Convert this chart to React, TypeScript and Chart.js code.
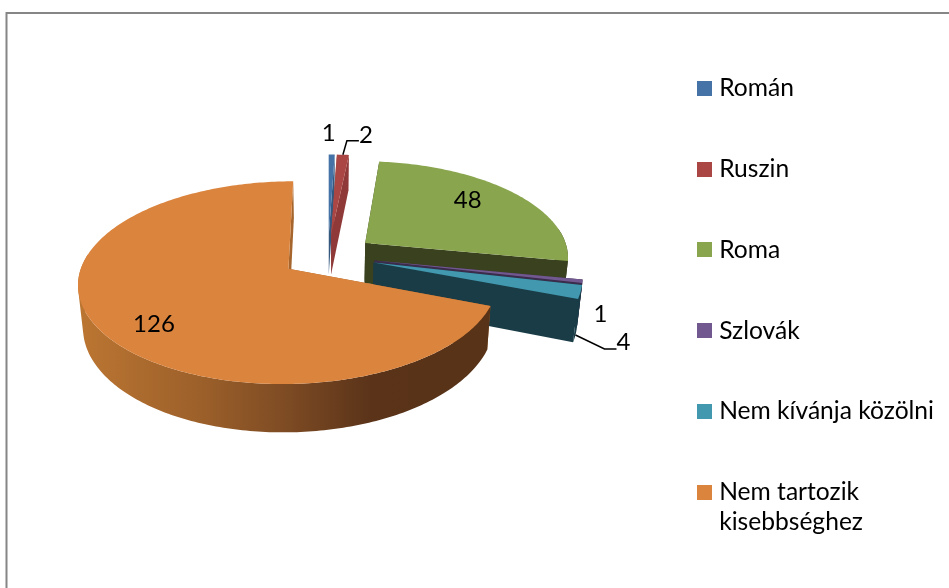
import React, { useEffect, useRef } from "react";
import { Chart, registerables } from "chart.js";

Chart.register(...registerables);

const categories: (string | string[])[] = ["Román", "Ruszin", "Roma", "Szlovák", "Nem kívánja közölni", ["Nem tartozik", "kisebbséghez"]];
const values = [1, 2, 48, 1, 4, 126];
const topColors = ["#4572A7", "#AA4643", "#89A54E", "#71588F", "#4198AF", "#DB843D"];
const sideColors = ["#35587F", "#8F3A38", "#3A411F", "#3A2C4A", "#1A3C47", "#A5652D"];

// view of the disc: centre, radii, perspective, thickness
const VIEW = { cx: 328, cy: 256, rx: 204, ry: 96, p: 0.134, q: 0.02, depth: 41 };
const SLICE_OFFSET = 61;
const FONT = "Lato, 'Open Sans', sans-serif";
const LEGEND_SIZE = 24.6;
const LEGEND_SHIFT_Y = 13.5;

// value label placement: fraction of radius, then nudge in px from the projected point
const labelPlace = [
  { r: 1, dx: -3, dy: -21 },
  { r: 1, dx: 23, dy: -19 },
  { r: 0.6, dx: 12, dy: -11 },
  { r: 1, dx: 18, dy: 33 },
  { r: 1, dx: 43, dy: 50 },
  { r: 0.6, dx: -25, dy: 20 },
];

function project(u: number, v: number, h: number) {
  const s = 1 / (1 - VIEW.p * v);
  return {
    x: VIEW.cx + VIEW.rx * u * s * (1 - VIEW.q * h),
    y: VIEW.cy + (VIEW.ry * v + VIEW.depth * h) * s,
  };
}

function polar(el: any, a: number, r: number, h: number) {
  const d = el.options.offset / el.outerRadius;
  const mid = (el.startAngle + el.endAngle) / 2;
  return project(Math.cos(a) * r + d * Math.cos(mid), Math.sin(a) * r + d * Math.sin(mid), h);
}

function fillPoly(ctx: CanvasRenderingContext2D, pts: { x: number; y: number }[], fill: any) {
  ctx.beginPath();
  pts.forEach((p, i) => (i ? ctx.lineTo(p.x, p.y) : ctx.moveTo(p.x, p.y)));
  ctx.closePath();
  ctx.fillStyle = fill;
  ctx.fill();
}

function rimAngles(el: any) {
  const n = Math.max(4, Math.ceil((el.endAngle - el.startAngle) * 60));
  const out: number[] = [];
  for (let i = 0; i <= n; i++) out.push(el.startAngle + ((el.endAngle - el.startAngle) * i) / n);
  return out;
}

// outer wall as one path of same-handed quads, so the silhouette follows the tangents
function fillWall(ctx: CanvasRenderingContext2D, el: any, fill: any) {
  const angles = rimAngles(el);
  ctx.beginPath();
  for (let i = 0; i < angles.length - 1; i++) {
    const a = angles[i];
    const b = angles[i + 1];
    if (Math.sin((a + b) / 2) < -0.15) continue;
    let q = [polar(el, a, 1, 0), polar(el, b, 1, 0), polar(el, b, 1, 1), polar(el, a, 1, 1)];
    let area = 0;
    q.forEach((p, k) => {
      const n = q[(k + 1) % 4];
      area += p.x * n.y - n.x * p.y;
    });
    if (area < 0) q = q.reverse();
    q.forEach((p, k) => (k ? ctx.lineTo(p.x, p.y) : ctx.moveTo(p.x, p.y)));
    ctx.closePath();
  }
  ctx.fillStyle = fill;
  ctx.fill();
}

function swatch(color: string) {
  const c = document.createElement("canvas");
  c.width = 15;
  c.height = 15;
  const g = c.getContext("2d") as CanvasRenderingContext2D;
  g.fillStyle = color;
  g.fillRect(0, 0, 15, 15);
  return c;
}

const pie3d = {
  id: "pie3d",
  afterLayout(chart: any) {
    chart.legend.top += LEGEND_SHIFT_Y;
    chart.legend.bottom += LEGEND_SHIFT_Y;
  },
  beforeDraw(chart: any) {
    const { ctx, width, height } = chart;
    ctx.save();
    ctx.fillStyle = "#fff";
    ctx.fillRect(0, 0, width, height);
    ctx.strokeStyle = "#868686";
    ctx.lineWidth = 2;
    ctx.beginPath();
    ctx.moveTo(6.5, height + 2);
    ctx.lineTo(6.5, 13);
    ctx.lineTo(width + 2, 13);
    ctx.stroke();
    ctx.restore();
  },
  beforeDatasetsDraw(chart: any) {
    const { ctx } = chart;
    const arcs = chart.getDatasetMeta(0).data;
    ctx.save();
    arcs.forEach((el: any, i: number) => {
      const side = sideColors[i];
      const apex0 = polar(el, el.startAngle, 0, 0);
      const apex1 = polar(el, el.startAngle, 0, 1);
      const topRim = rimAngles(el).map((a) => polar(el, a, 1, 0));
      const lowRim = rimAngles(el).map((a) => polar(el, a, 1, 1));
      const last = topRim.length - 1;
      fillPoly(ctx, [apex0, topRim[0], lowRim[0], apex1], side);
      fillPoly(ctx, [apex0, topRim[last], lowRim[last], apex1], side);
      let wall: any = side;
      if (i === 5) {
        const g = ctx.createLinearGradient(78, 0, 486, 0);
        g.addColorStop(0, "#BC7632");
        g.addColorStop(0.3, "#9C602A");
        g.addColorStop(0.52, "#7C4A23");
        g.addColorStop(0.72, "#5A3319");
        g.addColorStop(1, "#583317");
        wall = g;
      }
      fillWall(ctx, el, wall);
      fillPoly(ctx, [apex0, ...topRim], topColors[i]);
    });

    ctx.strokeStyle = "#000";
    ctx.lineWidth = 1.5;
    const leaders = [
      { i: 1, h: 0, steps: [[4, -14], [16, -14]] },
      { i: 4, h: 1, steps: [[29, 14], [41, 14]] },
    ];
    leaders.forEach(({ i, h, steps }) => {
      const el = arcs[i];
      const o = polar(el, (el.startAngle + el.endAngle) / 2, 1, h);
      ctx.beginPath();
      ctx.moveTo(o.x, o.y);
      steps.forEach(([dx, dy]) => ctx.lineTo(o.x + dx, o.y + dy));
      ctx.stroke();
    });

    ctx.fillStyle = "#000";
    ctx.font = `24px ${FONT}`;
    ctx.textAlign = "center";
    ctx.textBaseline = "middle";
    arcs.forEach((el: any, i: number) => {
      const pl = labelPlace[i];
      const o = polar(el, (el.startAngle + el.endAngle) / 2, pl.r, 0);
      ctx.fillText(String(values[i]), o.x + pl.dx, o.y + pl.dy);
    });
    ctx.restore();
    return false;
  },
};

export default function App() {
  const ref = useRef<HTMLCanvasElement>(null);
  useEffect(() => {
    const chart = new Chart(ref.current as HTMLCanvasElement, {
      type: "pie",
      data: {
        labels: categories as any,
        datasets: [{ data: values, backgroundColor: topColors, borderWidth: 0, offset: SLICE_OFFSET }],
      },
      options: {
        responsive: false,
        animation: false,
        layout: { padding: { right: 5, top: 0, bottom: 0 } },
        plugins: {
          tooltip: { enabled: false },
          legend: {
            position: "right",
            labels: {
              usePointStyle: true,
              pointStyleWidth: 4.4,
              boxHeight: 15,
              padding: 56.2,
              color: "#000",
              font: { family: FONT, size: LEGEND_SIZE },
              generateLabels: (c: any) =>
                Chart.overrides.pie.plugins.legend.labels.generateLabels(c).map((item: any, i: number) => ({
                  ...item,
                  pointStyle: swatch(topColors[i]),
                })),
            },
          },
        },
      },
      plugins: [pie3d],
    } as any);
    return () => chart.destroy();
  }, []);
  return (
    <div style={{ position: "fixed", left: 0, top: 0, width: 949, height: 588, background: "#fff" }}>
      <canvas ref={ref} width={949} height={588} style={{ display: "block" }} />
    </div>
  );
}
